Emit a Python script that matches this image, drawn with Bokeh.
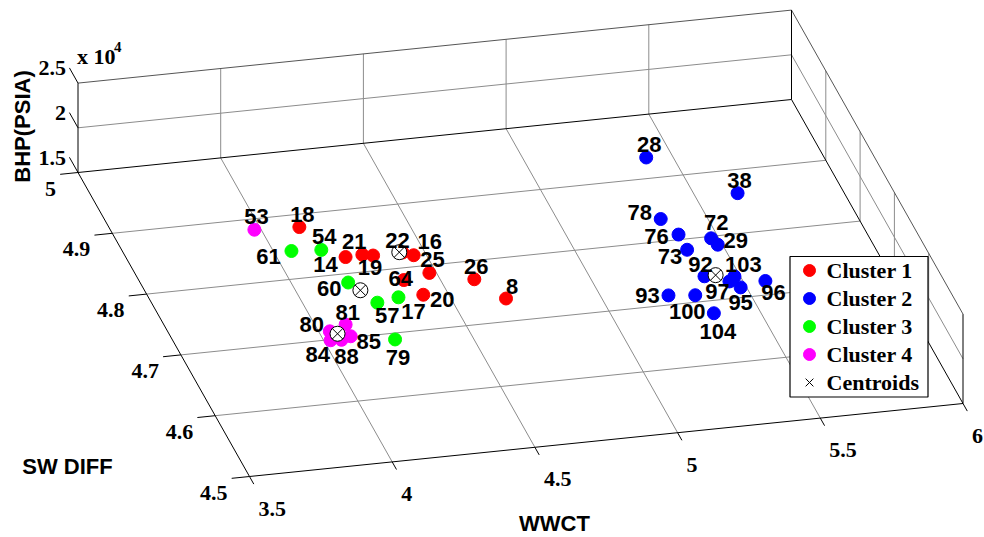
import numpy as np
from bokeh.plotting import figure
from bokeh.models import Range1d
from bokeh.core.properties import value
from bokeh.embed import file_html
from bokeh.resources import INLINE

# ---------------- data ----------------
c1_ids = ["18", "14", "21", "19", "22", "16", "25", "64", "20", "26", "8"]
c1_wwct = [4.123, 4.220, 4.280, 4.314, 4.417, 4.449, 4.468, 4.370, 4.407, 4.605, 4.674]
c1_swdiff = [4.873, 4.819, 4.820, 4.817, 4.817, 4.811, 4.781, 4.774, 4.748, 4.764, 4.729]
c1_bhp = [15500, 15500, 15500, 15500, 15500, 15500, 15500, 15500, 15500, 15500, 15500]

c2_ids = ["28", "38", "78", "76", "72", "29", "73", "92", "103", "97", "95", "96", "93", "100", "104"]
c2_wwct = [5.402, 5.638, 5.335, 5.365, 5.466, 5.476, 5.365, 5.373, 5.472, 5.446, 5.472, 5.566, 5.218, 5.307, 5.335]
c2_swdiff = [4.926, 4.856, 4.828, 4.801, 4.790, 4.779, 4.776, 4.732, 4.727, 4.720, 4.709, 4.715, 4.708, 4.704, 4.673]
c2_bhp = [15500, 15500, 15500, 15500, 15500, 15500, 15500, 15500, 15500, 15500, 15500, 15500, 15500, 15500, 15500]

c3_ids = ["61", "54", "60", "57", "17", "79"]
c3_wwct = [4.052, 4.153, 4.181, 4.240, 4.320, 4.230]
c3_swdiff = [4.837, 4.834, 4.779, 4.743, 4.748, 4.683]
c3_bhp = [15500, 15500, 15500, 15500, 15500, 15500]

c4_ids = ["53", "80", "81", "84", "88", "85"]
c4_wwct = [3.969, 4.029, 4.094, 4.015, 4.052, 4.089]
c4_swdiff = [4.876, 4.706, 4.714, 4.692, 4.691, 4.695]
c4_bhp = [15500, 15500, 15500, 15500, 15500, 15500]

centroid_wwct = [4.407, 5.412, 4.207, 4.050]
centroid_swdiff = [4.818, 4.732, 4.765, 4.701]
centroid_bhp = [15500, 15500, 15500, 15500]

wwct_ticks = [3.5, 4.0, 4.5, 5.0, 5.5, 6.0]
wwct_tick_labels = ["3.5", "4", "4.5", "5", "5.5", "6"]
sw_ticks = [4.5, 4.6, 4.7, 4.8, 4.9, 5.0]
sw_tick_labels = ["4.5", "4.6", "4.7", "4.8", "4.9", "5"]
bhp_ticks = [15000, 20000, 25000]
bhp_tick_labels = ["1.5", "2", "2.5"]

cluster_names = ["Cluster 1", "Cluster 2", "Cluster 3", "Cluster 4"]
cluster_colors = ["#ff0000", "#0000ff", "#00ff00", "#ff00ff"]

# ---------------- 3-D view (orthographic) ----------------
W = 984
H = 537
W0, W1 = 3.5, 6.0
S0, S1 = 4.5, 5.0
Z0, Z1 = 15000.0, 25000.0
ORIGIN = (249.0, 476.0)          # screen position of (W0, S0, Z0)
EX = (713.5, -73.0)              # screen span of the WWCT axis
EY = (-171.5, -304.0)            # screen span of the SW DIFF axis
EZ = (0.0, -89.4)                # screen span of the BHP axis


def scr(w, s, z):
    a = (np.asarray(w, float) - W0) / (W1 - W0)
    b = (np.asarray(s, float) - S0) / (S1 - S0)
    c = (np.asarray(z, float) - Z0) / (Z1 - Z0)
    x = ORIGIN[0] + a * EX[0] + b * EY[0] + c * EZ[0]
    y = ORIGIN[1] + a * EX[1] + b * EY[1] + c * EZ[1]
    return x, y


def proj(w, s, z, dx=0.0, dy=0.0):
    x, y = scr(w, s, z)
    return x + dx, H - (y + dy)


p = figure(width=W, height=H, x_range=Range1d(0, W), y_range=Range1d(0, H),
           output_backend="svg", toolbar_location=None, min_border=0,
           x_axis_type=None, y_axis_type=None)
p.grid.visible = False
p.outline_line_color = None
p.background_fill_color = "white"
p.border_fill_color = "white"


def segs(pairs):
    xs, ys = [], []
    for (a, b) in pairs:
        x0, y0 = proj(*a)
        x1, y1 = proj(*b)
        xs.append([float(x0), float(x1)])
        ys.append([float(y0), float(y1)])
    return xs, ys


ZM = 20000.0
grid = []
for s in sw_ticks[1:-1]:
    grid.append(((W0, s, Z0), (W1, s, Z0)))          # floor
    grid.append(((W1, s, Z0), (W1, s, Z1)))          # right wall
for w in wwct_ticks[1:-1]:
    grid.append(((w, S0, Z0), (w, S1, Z0)))          # floor
    grid.append(((w, S1, Z0), (w, S1, Z1)))          # back wall
grid.append(((W0, S1, ZM), (W1, S1, ZM)))
grid.append(((W1, S0, ZM), (W1, S1, ZM)))
xs, ys = segs(grid)
p.multi_line(xs, ys, line_color="#8c8c8c", line_width=1)

top = [((W0, S1, Z1), (W1, S1, Z1)), ((W1, S0, Z1), (W1, S1, Z1))]
xs, ys = segs(top)
p.multi_line(xs, ys, line_color="#555555", line_width=1)

box = [((W0, S0, Z0), (W1, S0, Z0)), ((W0, S0, Z0), (W0, S1, Z0)),
       ((W0, S1, Z0), (W1, S1, Z0)), ((W1, S0, Z0), (W1, S1, Z0)),
       ((W0, S1, Z0), (W0, S1, Z1)), ((W1, S1, Z0), (W1, S1, Z1)),
       ((W1, S0, Z0), (W1, S0, Z1))]
ticks = []
for w in wwct_ticks:
    ticks.append(((w, S0, Z0), (w, S0 - 0.025 * (S1 - S0), Z0)))
for s in sw_ticks:
    ticks.append(((W0, s, Z0), (W0 - 0.025 * (W1 - W0), s, Z0)))
for z in bhp_ticks:
    ticks.append(((W0, S1, z), (W0, S1 + 0.05 * (S1 - S0), z)))
xs, ys = segs(box + ticks)
p.multi_line(xs, ys, line_color="black", line_width=1)

# tick labels
serif = value("'Liberation Serif', 'Times New Roman', serif")
sans = value("'Liberation Sans', Arial, sans-serif")
tx, ty = proj(wwct_ticks, [S0] * len(wwct_ticks), [Z0] * len(wwct_ticks), 9, 32)
p.text(x=tx, y=ty, text=wwct_tick_labels, text_font=serif, text_font_style="bold",
       text_font_size="22px", text_align="left", text_baseline="middle")
tx, ty = proj([W0] * len(sw_ticks), sw_ticks, [Z0] * len(sw_ticks), -22, 16)
p.text(x=tx, y=ty, text=sw_tick_labels, text_font=serif, text_font_style="bold",
       text_font_size="22px", text_align="right", text_baseline="middle")
tx, ty = proj([W0] * len(bhp_ticks), [S1] * len(bhp_ticks), bhp_ticks, -12, -15)
p.text(x=tx, y=ty, text=bhp_tick_labels, text_font=serif, text_font_style="bold",
       text_font_size="22px", text_align="right", text_baseline="middle")
ex_x, ex_y = proj(W0, S1, Z1, -1, -27)
p.text(x=[float(ex_x)], y=[float(ex_y)], text=["x 10"], text_font=serif, text_font_style="bold",
       text_font_size="22px", text_align="left", text_baseline="middle")
p.text(x=[float(ex_x) + 37], y=[float(ex_y) + 9], text=["4"], text_font=serif,
       text_font_style="bold", text_font_size="15px", text_align="left", text_baseline="middle")

# axis titles
p.text(x=[554], y=[H - 523], text=["WWCT"], text_font=sans, text_font_style="bold",
       text_font_size="22px", text_align="center", text_baseline="middle")
p.text(x=[67], y=[H - 466], text=["SW DIFF"], text_font=sans, text_font_style="bold",
       text_font_size="22px", text_align="center", text_baseline="middle")
p.text(x=[22], y=[H - 126], text=["BHP(PSIA)"], text_font=sans, text_font_style="bold",
       text_font_size="22px", text_align="center", text_baseline="middle", angle=np.pi / 2)

# scatter points
clusters = [(c1_ids, c1_wwct, c1_swdiff, c1_bhp), (c2_ids, c2_wwct, c2_swdiff, c2_bhp),
            (c3_ids, c3_wwct, c3_swdiff, c3_bhp), (c4_ids, c4_wwct, c4_swdiff, c4_bhp)]
for (ids, w, s, z), col in zip(clusters, cluster_colors):
    px, py = proj(w, s, z)
    p.scatter(px, py, marker="circle", size=13, fill_color=col, line_color=col)

cx, cy = proj(centroid_wwct, centroid_swdiff, centroid_bhp)
p.scatter(cx, cy, marker="circle_x", size=15, fill_color="white", line_color="black", line_width=1)

# point labels (screen offsets from each marker)
label_shift = {
    "18": (3, -13), "14": (-20, 7), "21": (-8, -13), "19": (-3, 12), "22": (-5, -12),
    "16": (16, -14), "25": (3, -13), "64": (-3, -2), "20": (19, 5), "26": (2, -13),
    "8": (6, -12), "28": (3, -13), "38": (2, -13), "78": (-21, -7), "76": (-22, 2),
    "72": (5, -16), "29": (18, -4), "73": (-17, 7), "92": (-4, -12), "103": (9, -12),
    "97": (-12, 10), "95": (0, 15), "96": (8, 12), "93": (-21, 0), "100": (-8, 16),
    "104": (4, 18), "61": (-23, 5), "54": (3, -13), "60": (-19, 6), "57": (10, 13),
    "17": (15, 14), "79": (3, 18), "53": (2, -13), "80": (-18, -7), "81": (2, -12),
    "84": (-13, 14), "88": (5, 17), "85": (18, 5),
}
lx, ly, lt = [], [], []
for (ids, w, s, z) in clusters:
    for i, name in enumerate(ids):
        dx, dy = label_shift[name]
        x, y = proj(w[i], s[i], z[i], dx, dy)
        lx.append(float(x))
        ly.append(float(y))
        lt.append(name)
p.text(x=lx, y=ly, text=lt, text_font=sans, text_font_style="bold", text_font_size="22px",
       text_align="center", text_baseline="middle", text_color="black")

# legend box
L, R, T, B = 789.5, 927.5, 256, 396.5
p.quad(left=[L], right=[R], top=[H - T], bottom=[H - B], fill_color="white",
       line_color="black", line_width=1.2)
rows = [270, 298, 326, 354, 382]
p.scatter([809] * 4, [H - r for r in rows[:4]], marker="circle", size=12,
          fill_color=cluster_colors, line_color=cluster_colors)
p.scatter([809], [H - rows[4]], marker="x", size=11, line_color="black", line_width=1)
p.text(x=[826] * 5, y=[H - r for r in rows], text=cluster_names + ["Centroids"],
       text_font=serif, text_font_style="bold", text_font_size="22px",
       text_align="left", text_baseline="middle")

open("out.html", "w").write(file_html(p, INLINE))
